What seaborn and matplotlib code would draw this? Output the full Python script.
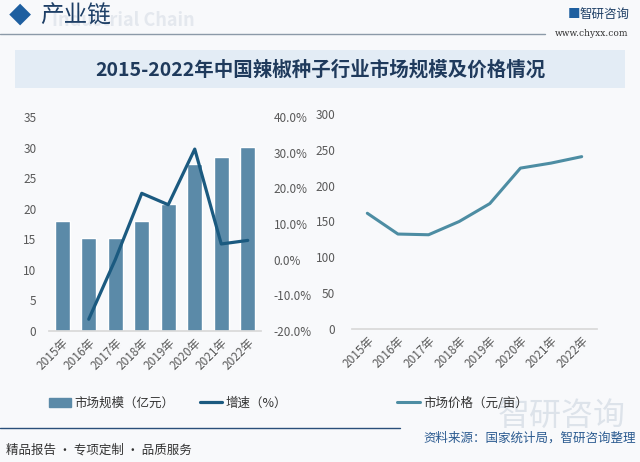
import numpy as np
import pandas as pd
import matplotlib
matplotlib.use("Agg")
import matplotlib.pyplot as plt
from matplotlib.patches import Patch, Rectangle
from matplotlib.lines import Line2D
import seaborn as sns

# data
years = ["2015年", "2016年", "2017年", "2018年", "2019年", "2020年", "2021年", "2022年"]
market_size = [18.0, 15.2, 15.2, 18.0, 20.8, 27.3, 28.5, 30.1]      # 亿元
growth = [np.nan, -16.7, 0.0, 18.6, 15.4, 31.0, 4.4, 5.4]           # %
price = [161.5, 132.5, 131.5, 150.0, 175.0, 224.5, 231.5, 240.5]    # 元/亩

sns.set_theme(style="white")
plt.rcParams["font.family"] = ["Noto Sans CJK SC", "DejaVu Sans"]

BAR_C = "#5b8aa8"
LINE_C = "#1b5a80"
PRICE_C = "#4d8da3"
TICK_C = "#595959"
BG = "#f8f9fb"

df = pd.DataFrame({"year": years, "size": market_size, "growth": growth, "price": price})
df["pos"] = np.arange(len(df))

W, H = 640, 462
fig = plt.figure(figsize=(W / 100, H / 100), dpi=100, facecolor=BG)


def box(x0, y0, x1, y1):
    # pixel box (top-left origin) -> figure fraction rect
    return [x0 / W, 1 - y1 / H, (x1 - x0) / W, (y1 - y0) / H]


# header
fig.text(20 / W, 1 - 16 / H, "◆", color="#1e5fa0", fontsize=16, ha="center", va="center")
fig.text(52 / W, 1 - 20 / H, "Industrial Chain", color="#e4e8ee", fontsize=13,
         fontweight="bold", ha="left", va="center", zorder=0)
fig.text(40 / W, 1 - 16 / H, "产业链", color="#1e3f66", fontsize=17, ha="left", va="center")
fig.add_artist(Line2D([0, 545 / W], [1 - 34 / H] * 2, color="#8c9aa8", lw=1))
fig.text(630 / W, 1 - 14 / H, "智研咨询", color="#1e3f66", fontsize=9, ha="right", va="center")
fig.text(574 / W, 1 - 14 / H, "■", color="#1e5fa0", fontsize=9, ha="center", va="center")
fig.text(628 / W, 1 - 34 / H, "www.chyxx.com", color="#333333", fontsize=6.5,
         ha="right", va="center", family="DejaVu Serif")

# title band
fig.add_artist(Rectangle((15 / W, 1 - 88 / H), 610 / W, 38 / H, transform=fig.transFigure,
                         facecolor="#e3ecf5", edgecolor="none"))
fig.text(320 / W, 1 - 70 / H, "2015-2022年中国辣椒种子行业市场规模及价格情况",
         color="#1f3a5c", fontsize=14, fontweight="bold", ha="center", va="center")

# left chart: bars + growth line
ax1 = fig.add_axes(box(49, 117, 261, 331))
ax1.set_facecolor("none")
sns.barplot(data=df, x="pos", y="size", color=BAR_C, width=0.56, saturation=1, ax=ax1)
ax1.set_ylim(0, 35)
ax1.set_yticks(range(0, 36, 5))
ax1.set_xlim(-0.5, len(years) - 0.5)
ax1.set_xticks(df["pos"])
ax1.set_xticklabels(years, rotation=45, ha="right", rotation_mode="anchor")
ax1.set_xlabel("")
ax1.set_ylabel("")

ax2 = ax1.twinx()
sns.lineplot(data=df.dropna(subset=["growth"]), x="pos", y="growth", color=LINE_C, lw=2.3, ax=ax2)
ax2.set_ylim(-20, 40)
ax2.set_yticks(range(-20, 41, 10))
ax2.set_yticklabels([f"{v:.1f}%" for v in range(-20, 41, 10)])
ax2.set_ylabel("")

for a in (ax1, ax2):
    for s in a.spines.values():
        s.set_visible(False)
    a.tick_params(length=0, labelsize=8.5, colors=TICK_C)
ax1.spines["bottom"].set_visible(True)
ax1.spines["bottom"].set_color("#d9d9d9")
ax1.tick_params(axis="y", pad=9)
ax1.tick_params(axis="x", pad=4)
ax2.tick_params(axis="y", pad=9)

fig.legend([Patch(color=BAR_C), Line2D([], [], color=LINE_C, lw=2.3)],
           ["市场规模（亿元）", "增速（%）"], loc="center", bbox_to_anchor=(168 / W, 1 - 403 / H),
           ncol=2, frameon=False, fontsize=9, handlelength=1.8, handletextpad=0.3,
           columnspacing=2.0, labelcolor="#333333")

# right chart: price line
ax3 = fig.add_axes(box(352, 114, 597, 329))
ax3.set_facecolor("none")
sns.lineplot(data=df, x="pos", y="price", color=PRICE_C, lw=2.2, ax=ax3)
ax3.set_ylim(0, 300)
ax3.set_yticks(range(0, 301, 50))
ax3.set_xlim(-0.5, len(years) - 0.5)
ax3.set_xticks(df["pos"])
ax3.set_xticklabels(years, rotation=45, ha="right", rotation_mode="anchor")
ax3.set_xlabel("")
ax3.set_ylabel("")
for s in ax3.spines.values():
    s.set_visible(False)
ax3.spines["bottom"].set_visible(True)
ax3.spines["bottom"].set_color("#d9d9d9")
ax3.tick_params(length=0, labelsize=8.5, colors=TICK_C)
ax3.tick_params(axis="y", pad=12)
ax3.tick_params(axis="x", pad=4)

fig.legend([Line2D([], [], color=PRICE_C, lw=2.2)], ["市场价格（元/亩）"], loc="center",
           bbox_to_anchor=(463 / W, 1 - 403 / H), frameon=False, fontsize=9,
           handlelength=1.8, handletextpad=0.3, labelcolor="#333333")

# footer
fig.text(562 / W, 1 - 416 / H, "智研咨询", color="#dde3ea", fontsize=23, ha="center",
         va="center", zorder=0)
fig.add_artist(Line2D([0, 400 / W], [1 - 428 / H] * 2, color="#2a4f7a", lw=1))
fig.text(6 / W, 1 - 450 / H, "精品报告 · 专项定制 · 品质服务", color="#333333", fontsize=9,
         ha="left", va="center")
fig.text(636 / W, 1 - 438 / H, "资料来源：国家统计局，智研咨询整理", color="#2a5a90", fontsize=9,
         ha="right", va="center")

fig.savefig("out.png", dpi=100, facecolor=BG)
